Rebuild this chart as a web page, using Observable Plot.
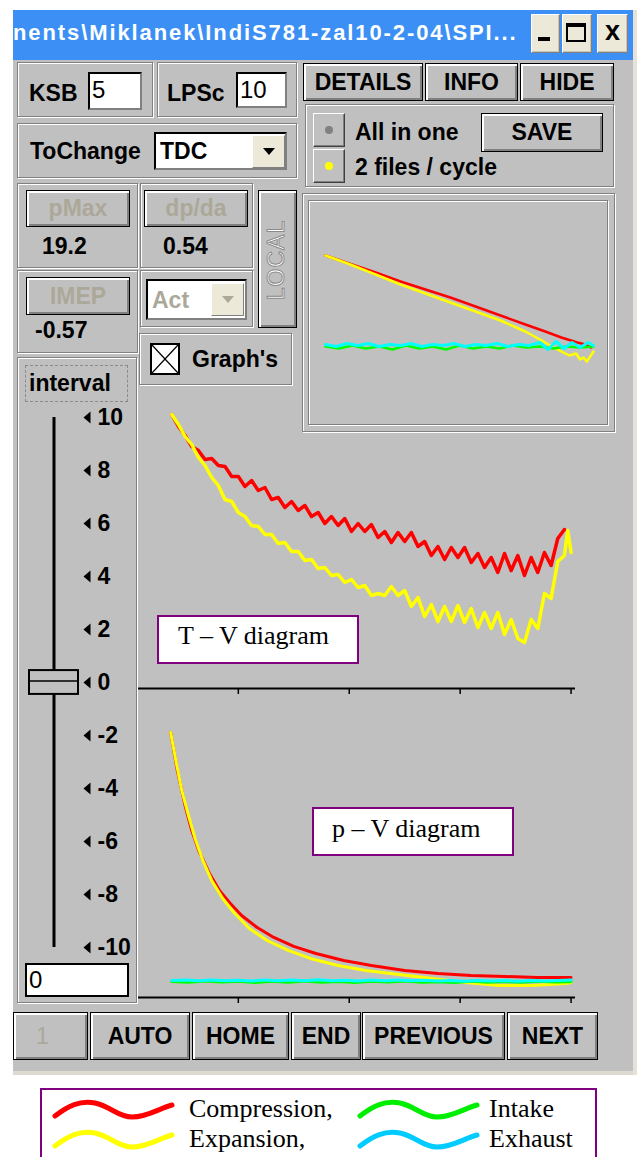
<!DOCTYPE html>
<html><head><meta charset="utf-8">
<script src="https://cdn.jsdelivr.net/npm/d3@7"></script>
<script src="https://cdn.jsdelivr.net/npm/@observablehq/plot@0.6"></script>
<style>
*{box-sizing:border-box}
body{margin:0;background:#fff;width:637px;height:1157px;overflow:hidden;position:relative;font-family:"Liberation Sans",Arial,sans-serif}
.a{position:absolute}
.g{position:absolute;border:1px solid #808080;box-shadow:inset 1px 1px 0 #fff,1px 1px 0 #fff}
.b{position:absolute;background:#c0c0c0;border:1px solid #000;box-shadow:inset 2px 2px 0 #fff,inset -2px -2px 0 #808080;font:bold 23px "Liberation Sans",Arial,sans-serif;display:flex;align-items:center;justify-content:center;color:#000;white-space:nowrap}
.r{position:absolute;background:#c0c0c0;border:1px solid;border-color:#fff #404040 #404040 #fff;box-shadow:inset -1px -1px 0 #808080}
.t{position:absolute;font:bold 23px "Liberation Sans",Arial,sans-serif;white-space:nowrap;color:#000;height:30px;line-height:30px}
.dis{color:#aca899}
.in{position:absolute;background:#fff;border:2px solid;border-color:#000 #808080 #808080 #000}
.dd{position:absolute;background:#ece9d8;border:1px solid;border-color:#fff #808080 #808080 #fff;display:flex;align-items:center;justify-content:center}
.tri{width:0;height:0;border-left:6px solid transparent;border-right:6px solid transparent;border-top:7px solid #000}
.tb{position:absolute;background:#ece9d8;border:1px solid;border-color:#fff #808080 #808080 #fff;box-shadow:inset -1px -1px 0 #c8c4b8}
.lab{position:absolute;background:#fff;border:2px solid #800080;font:26px "Liberation Serif","Times New Roman",serif;white-space:nowrap;color:#000}
.lt{position:absolute;font:26px "Liberation Serif","Times New Roman",serif;white-space:nowrap;height:30px;line-height:30px;color:#000}
</style></head>
<body>
<!-- window -->
<div class="a" style="left:13px;top:10px;width:621px;height:1061px;background:#c0c0c0"></div>
<div class="a" style="left:13px;top:1071px;width:621px;height:4px;background:#dedad2"></div>
<div class="a" style="left:633px;top:10px;width:4px;height:1065px;background:#e6e2da"></div>
<div class="a" style="left:13px;top:10px;width:620px;height:50px;background:#3b8ff5"></div>
<div class="a" style="left:13px;top:18px;width:515px;height:30px;overflow:hidden;color:#fff;font:bold 22px 'Liberation Sans',Arial,sans-serif;line-height:30px;white-space:nowrap;letter-spacing:1.9px">nents\Miklanek\IndiS781-zal10-2-04\SPI...</div>
<div class="tb" style="left:531px;top:14px;width:29px;height:39px"></div>
<div class="a" style="left:538px;top:37px;width:12px;height:4px;background:#000"></div>
<div class="tb" style="left:562px;top:14px;width:30px;height:39px"></div>
<div class="a" style="left:566px;top:23px;width:20px;height:19px;border:2px solid #000;border-top-width:4px"></div>
<div class="tb" style="left:597px;top:14px;width:31px;height:39px;display:flex;align-items:center;justify-content:center;font:bold 27px 'Liberation Sans',Arial,sans-serif;line-height:30px"><span style="margin-top:-6px">x</span></div>

<!-- row 1 -->
<div class="g" style="left:17px;top:62px;width:136px;height:55px"></div>
<div class="t" style="left:29px;top:78px">KSB</div>
<div class="in" style="left:88px;top:72px;width:54px;height:38px"></div>
<div class="t" style="left:92px;top:75px;font-weight:normal;font-family:'Liberation Sans';font-size:24px">5</div>
<div class="g" style="left:157px;top:62px;width:140px;height:55px"></div>
<div class="t" style="left:167px;top:78px">LPSc</div>
<div class="in" style="left:236px;top:72px;width:51px;height:36px"></div>
<div class="t" style="left:240px;top:75px;font-weight:normal;font-size:24px">10</div>
<div class="b" style="left:303px;top:63px;width:120px;height:38px">DETAILS</div>
<div class="b" style="left:425px;top:63px;width:93px;height:38px">INFO</div>
<div class="b" style="left:520px;top:63px;width:94px;height:38px">HIDE</div>

<!-- row 2 -->
<div class="g" style="left:17px;top:123px;width:280px;height:55px"></div>
<div class="t" style="left:30px;top:136px">ToChange</div>
<div class="in" style="left:154px;top:132px;width:133px;height:38px"></div>
<div class="t" style="left:160px;top:136px">TDC</div>
<div class="dd" style="left:252px;top:135px;width:33px;height:33px"><div class="tri"></div></div>

<div class="g" style="left:305px;top:104px;width:309px;height:83px"></div>
<div class="r" style="left:313px;top:113px;width:32px;height:34px"></div>
<div class="a" style="left:325px;top:126px;width:8px;height:8px;border-radius:50%;background:#808080"></div>
<div class="r" style="left:313px;top:149px;width:32px;height:34px"></div>
<div class="a" style="left:325px;top:162px;width:8px;height:8px;border-radius:50%;background:#ffff00"></div>
<div class="t" style="left:355px;top:117px">All in one</div>
<div class="t" style="left:355px;top:152px">2 files / cycle</div>
<div class="b" style="left:481px;top:113px;width:122px;height:39px">SAVE</div>

<!-- mini frame -->
<div class="g" style="left:302px;top:193px;width:313px;height:239px"></div>
<div class="g" style="left:308px;top:200px;width:300px;height:225px"></div>

<!-- left column -->
<div class="g" style="left:17px;top:183px;width:121px;height:85px"></div>
<div class="b dis" style="left:26px;top:190px;width:104px;height:37px;color:#aca899">pMax</div>
<div class="t" style="left:42px;top:231px">19.2</div>
<div class="g" style="left:140px;top:183px;width:113px;height:85px"></div>
<div class="b" style="left:144px;top:190px;width:104px;height:37px;color:#aca899">dp/da</div>
<div class="t" style="left:163px;top:231px">0.54</div>
<div class="b" style="left:258px;top:190px;width:39px;height:138px"></div>
<div class="a" style="left:228px;top:245px;width:100px;height:30px;line-height:30px;text-align:center;transform:rotate(-90deg);font:23px 'Liberation Sans',Arial,sans-serif;letter-spacing:1px;color:#fff;-webkit-text-stroke:1px #8a8a8a">LOCAL</div>
<div class="g" style="left:17px;top:270px;width:121px;height:83px"></div>
<div class="b" style="left:26px;top:277px;width:104px;height:38px;color:#aca899">IMEP</div>
<div class="t" style="left:35px;top:315px">-0.57</div>
<div class="g" style="left:140px;top:270px;width:113px;height:57px"></div>
<div class="in" style="left:146px;top:279px;width:101px;height:41px"></div>
<div class="t dis" style="left:152px;top:285px">Act</div>
<div class="dd" style="left:211px;top:283px;width:33px;height:33px"><div class="tri" style="border-top-color:#aca899"></div></div>
<div class="g" style="left:139px;top:333px;width:153px;height:52px"></div>
<div class="in" style="left:150px;top:343px;width:30px;height:32px;border:2px solid #000"><svg width="26" height="28" style="display:block"><line x1="0" y1="0" x2="26" y2="28" stroke="#000" stroke-width="1.3"/><line x1="26" y1="0" x2="0" y2="28" stroke="#000" stroke-width="1.3"/></svg></div>
<div class="t" style="left:192px;top:344px">Graph's</div>

<!-- slider group -->
<div class="g" style="left:17px;top:357px;width:120px;height:646px"></div>
<div class="a" style="left:25px;top:365px;width:103px;height:37px;border:1px dashed #8a8a8a"></div>
<div class="t" style="left:29px;top:368px">interval</div>
<div class="in" style="left:25px;top:963px;width:104px;height:34px;border:2px solid #000"></div>
<div class="t" style="left:29px;top:965px;font-weight:normal;font-size:24px">0</div>

<!-- bottom buttons -->
<div class="b" style="left:13px;top:1012px;width:75px;height:48px"></div>
<div class="t dis" style="left:36px;top:1021px;font-weight:normal">1</div>
<div class="b" style="left:90px;top:1012px;width:100px;height:48px">AUTO</div>
<div class="b" style="left:192px;top:1012px;width:97px;height:48px">HOME</div>
<div class="b" style="left:291px;top:1012px;width:70px;height:48px">END</div>
<div class="b" style="left:362px;top:1012px;width:143px;height:48px">PREVIOUS</div>
<div class="b" style="left:507px;top:1012px;width:91px;height:48px">NEXT</div>

<!-- charts -->
<div id="mini" class="a" style="left:308px;top:200px;width:300px;height:225px"></div>
<div id="slider" class="a" style="left:17px;top:400px;width:120px;height:565px"></div>
<div id="tv" class="a" style="left:138px;top:395px;width:480px;height:300px"></div>
<div id="pv" class="a" style="left:138px;top:705px;width:480px;height:300px"></div>

<div class="lab" style="left:157px;top:615px;width:202px;height:49px"></div>
<div class="lt" style="left:178px;top:621px">T – V diagram</div>
<div class="lab" style="left:312px;top:807px;width:202px;height:49px"></div>
<div class="lt" style="left:332px;top:814px">p – V diagram</div>

<!-- legend -->
<div class="a" style="left:40px;top:1088px;width:557px;height:90px;border:2px solid #800080;background:#fff"></div>
<svg class="a" style="left:0;top:0" width="637" height="1157">
  <g fill="none" stroke-width="5" stroke-linecap="round">
    <path d="M55,1116 C68,1106 80,1100 95,1103 C110,1106 118,1117 132,1117 C148,1117 160,1108 172,1105" stroke="#ff0000"/>
    <path d="M55,1146 C68,1136 80,1130 95,1133 C110,1136 118,1147 132,1147 C148,1147 160,1138 172,1135" stroke="#ffff00"/>
    <path d="M360,1116 C373,1106 385,1100 400,1103 C415,1106 423,1117 437,1117 C453,1117 465,1108 477,1105" stroke="#00ee00"/>
    <path d="M360,1146 C373,1136 385,1130 400,1133 C415,1136 423,1147 437,1147 C453,1147 465,1138 477,1135" stroke="#00ccff"/>
  </g>
</svg>
<div class="lt" style="left:189px;top:1094px">Compression,</div>
<div class="lt" style="left:489px;top:1094px">Intake</div>
<div class="lt" style="left:189px;top:1124px">Expansion,</div>
<div class="lt" style="left:489px;top:1124px">Exhaust</div>

<script>
// ---------- data ----------
const RED = "#ff0000", YELLOW = "#ffff00", GREEN = "#00ff00", CYAN = "#00ffff";

// slider
const sliderTicks = [10, 8, 6, 4, 2, 0, -2, -4, -6, -8, -10];
const sliderValue = 0;

// volume axis ticks (cm3)
const volumeTicks = [100, 200, 300, 400];

// T–V diagram: [volume, temperature]
const tvCompression = [[40,548],[46,524],[52,506],[58,484],[64,476],[70,458],[76,460],[82,446],[88,444],[94,424],[100,424],[106,404],[112,416],[118,396],[124,402],[130,378],[136,382],[142,362],[148,374],[154,356],[160,366],[166,344],[172,352],[178,330],[184,344],[190,326],[196,340],[202,314],[208,330],[214,314],[220,328],[226,302],[232,314],[238,292],[244,312],[250,294],[256,312],[262,284],[268,294],[274,266],[280,284],[286,258],[292,282],[298,262],[304,282],[310,252],[316,270],[322,242],[328,262],[334,232],[340,270],[346,236],[352,266],[358,226],[364,262],[370,232],[376,272],[382,246],[388,300],[394,318]];
const tvExpansion = [[40,548],[46,528],[52,504],[58,488],[64,462],[70,446],[76,422],[82,406],[88,378],[94,374],[100,352],[106,344],[112,326],[118,324],[124,308],[130,308],[136,290],[142,292],[148,274],[154,274],[160,256],[166,258],[172,240],[178,242],[184,226],[190,228],[196,212],[202,218],[208,202],[214,206],[220,186],[226,190],[232,186],[238,204],[244,186],[250,196],[256,164],[262,182],[268,144],[274,168],[280,134],[286,164],[292,134],[298,166],[304,132],[310,160],[316,122],[322,152],[328,120],[334,152],[340,108],[346,138],[352,100],[358,92],[364,138],[370,120],[376,190],[382,180],[388,254],[394,266],[397,316],[400,272]];

// p–V diagram: [volume, pressure bar]
const pvCompression = [[39,19.2],[45,16.45],[52,13.91],[58,12.1],[65,10.51],[74,8.99],[83,7.75],[92,6.88],[103,5.94],[117,5.07],[132,4.35],[150,3.7],[170,3.19],[195,2.68],[220,2.32],[250,1.96],[280,1.74],[310,1.59],[340,1.52],[370,1.45],[400,1.45]];
const pvExpansion = [[39,19.2],[44,17.03],[49,15.0],[55,13.19],[61,11.52],[68,9.93],[76,8.48],[86,7.17],[96,6.16],[110,5.0],[126,4.13],[145,3.41],[165,2.83],[190,2.32],[215,1.96],[245,1.67],[275,1.38],[305,1.09],[335,0.87],[365,0.87],[395,1.01],[400,1.09]];
const pvIntake = [[40,1.16],[55,1.1],[70,1.2],[85,1.12],[100,1.18],[115,1.09],[130,1.17],[145,1.11],[160,1.2],[175,1.1],[190,1.16],[205,1.08],[220,1.18],[235,1.12],[250,1.19],[265,1.1],[280,1.15],[295,1.09],[310,1.17],[325,1.11],[340,1.16],[355,1.1],[370,1.18],[385,1.12],[400,1.15]];
const pvExhaust = [[40,1.23],[52,1.26],[64,1.21],[76,1.27],[88,1.22],[100,1.25],[112,1.2],[124,1.27],[136,1.22],[148,1.26],[160,1.21],[172,1.28],[184,1.22],[196,1.25],[208,1.19],[220,1.26],[232,1.21],[244,1.27],[256,1.22],[268,1.25],[280,1.2],[292,1.24],[304,1.18],[316,1.24],[328,1.19],[340,1.23],[352,1.18],[364,1.24],[376,1.19],[388,1.23],[400,1.26]];

// small log p – log V preview (normalised)
const miniCompression = [[0,1.0],[0.093,0.915],[0.187,0.83],[0.28,0.74],[0.373,0.66],[0.466,0.58],[0.56,0.49],[0.653,0.40],[0.746,0.31],[0.82,0.24],[0.88,0.18],[0.94,0.13],[0.97,0.11],[0.99,0.08]];
const miniExpansion = [[0,1.0],[0.093,0.91],[0.187,0.81],[0.28,0.71],[0.373,0.62],[0.466,0.53],[0.56,0.44],[0.653,0.35],[0.746,0.24],[0.8,0.16],[0.851,0.08],[0.88,0.04],[0.91,0.0],[0.935,0.02],[0.95,-0.04],[0.963,-0.02],[0.975,-0.06],[0.99,0.0],[1.0,0.04]];
const miniIntake = [[0,0.09],[0.05,0.07],[0.1,0.1],[0.15,0.07],[0.2,0.09],[0.25,0.06],[0.3,0.1],[0.35,0.07],[0.4,0.09],[0.45,0.06],[0.5,0.1],[0.55,0.07],[0.6,0.09],[0.65,0.07],[0.7,0.1],[0.75,0.08],[0.8,0.09],[0.85,0.07],[0.9,0.09],[0.95,0.08],[1,0.09]];
const miniExhaust = [[0,0.11],[0.04,0.09],[0.08,0.12],[0.12,0.1],[0.16,0.12],[0.2,0.09],[0.24,0.11],[0.28,0.1],[0.32,0.12],[0.36,0.09],[0.4,0.11],[0.44,0.1],[0.48,0.12],[0.52,0.09],[0.56,0.11],[0.6,0.1],[0.64,0.12],[0.68,0.09],[0.72,0.11],[0.76,0.1],[0.8,0.13],[0.83,0.06],[0.86,0.14],[0.89,0.07],[0.92,0.13],[0.95,0.08],[0.98,0.13],[1,0.1]];

// ---------- drawing ----------
const FONT = "Liberation Sans, Arial, sans-serif";
const xy = {x: d => d[0], y: d => d[1]};
const st = {background: "transparent", overflow: "visible", fontFamily: FONT};
function mount(id, el) { document.getElementById(id).appendChild(el); }

mount("mini", Plot.plot({
  width: 300, height: 225, marginLeft: 17, marginRight: 15, marginTop: 55, marginBottom: 70,
  x: {domain: [0, 1], axis: null}, y: {domain: [0, 1], axis: null}, style: st,
  marks: [
    Plot.line(miniCompression, {...xy, stroke: RED, strokeWidth: 2.5}),
    Plot.line(miniExpansion, {...xy, stroke: YELLOW, strokeWidth: 2.5}),
    Plot.line(miniIntake, {...xy, stroke: GREEN, strokeWidth: 2.5}),
    Plot.line(miniExhaust, {...xy, stroke: CYAN, strokeWidth: 3})
  ]
}));

const arrow = {draw(ctx) { ctx.moveTo(-3.5, 0); ctx.lineTo(3.5, -6); ctx.lineTo(3.5, 6); ctx.closePath(); }};
mount("slider", Plot.plot({
  width: 120, height: 565, marginLeft: 0, marginRight: 0, marginTop: 17, marginBottom: 18,
  x: {type: "identity", axis: null}, y: {domain: [-10, 10], axis: null}, style: st,
  marks: [
    Plot.ruleX([36.5], {x: d => d, y1: -10, y2: 10, stroke: "#000", strokeWidth: 3}),
    Plot.rect([sliderValue], {x1: 12, x2: 61, y1: d => d - 0.45, y2: d => d + 0.45, fill: "#c0c0c0", stroke: "#000", strokeWidth: 2}),
    Plot.ruleY([sliderValue], {x1: 12, x2: 61, y: d => d + 0.06, stroke: "#000", strokeWidth: 1.5}),
    Plot.dot(sliderTicks, {x: 69.5, y: d => d, symbol: arrow, r: 6, fill: "#000", stroke: null}),
    Plot.text(sliderTicks, {x: 80, y: d => d, text: d => String(d), textAnchor: "start", fontSize: 23, fontWeight: "bold", fill: "#000"})
  ]
}));

function diagram(id, yDomain, mt, mb, marks) {
  mount(id, Plot.plot({
    width: 480, height: 300, marginLeft: 0, marginRight: 43, marginTop: mt, marginBottom: mb,
    x: {domain: [10, 404]}, y: {domain: yDomain, axis: null}, style: st,
    marks: [
      ...marks,
      Plot.ruleY([0], {stroke: "#000", strokeWidth: 2}),
      Plot.axisX({ticks: volumeTicks, tickSize: 6, tickFormat: () => "", label: null, stroke: "#000", strokeWidth: 1.5})
    ]
  }));
}

diagram("tv", [0, 550], 18, 7, [
  Plot.line(tvCompression, {...xy, stroke: RED, strokeWidth: 3.5}),
  Plot.line(tvExpansion, {...xy, stroke: YELLOW, strokeWidth: 3.5})
]);

diagram("pv", [0, 19.2], 27, 8, [
  Plot.line(pvCompression, {...xy, stroke: RED, strokeWidth: 3}),
  Plot.line(pvExpansion, {...xy, stroke: YELLOW, strokeWidth: 3}),
  Plot.line(pvIntake, {...xy, stroke: GREEN, strokeWidth: 3}),
  Plot.line(pvExhaust, {...xy, stroke: CYAN, strokeWidth: 3})
]);
</script>
</body></html>
